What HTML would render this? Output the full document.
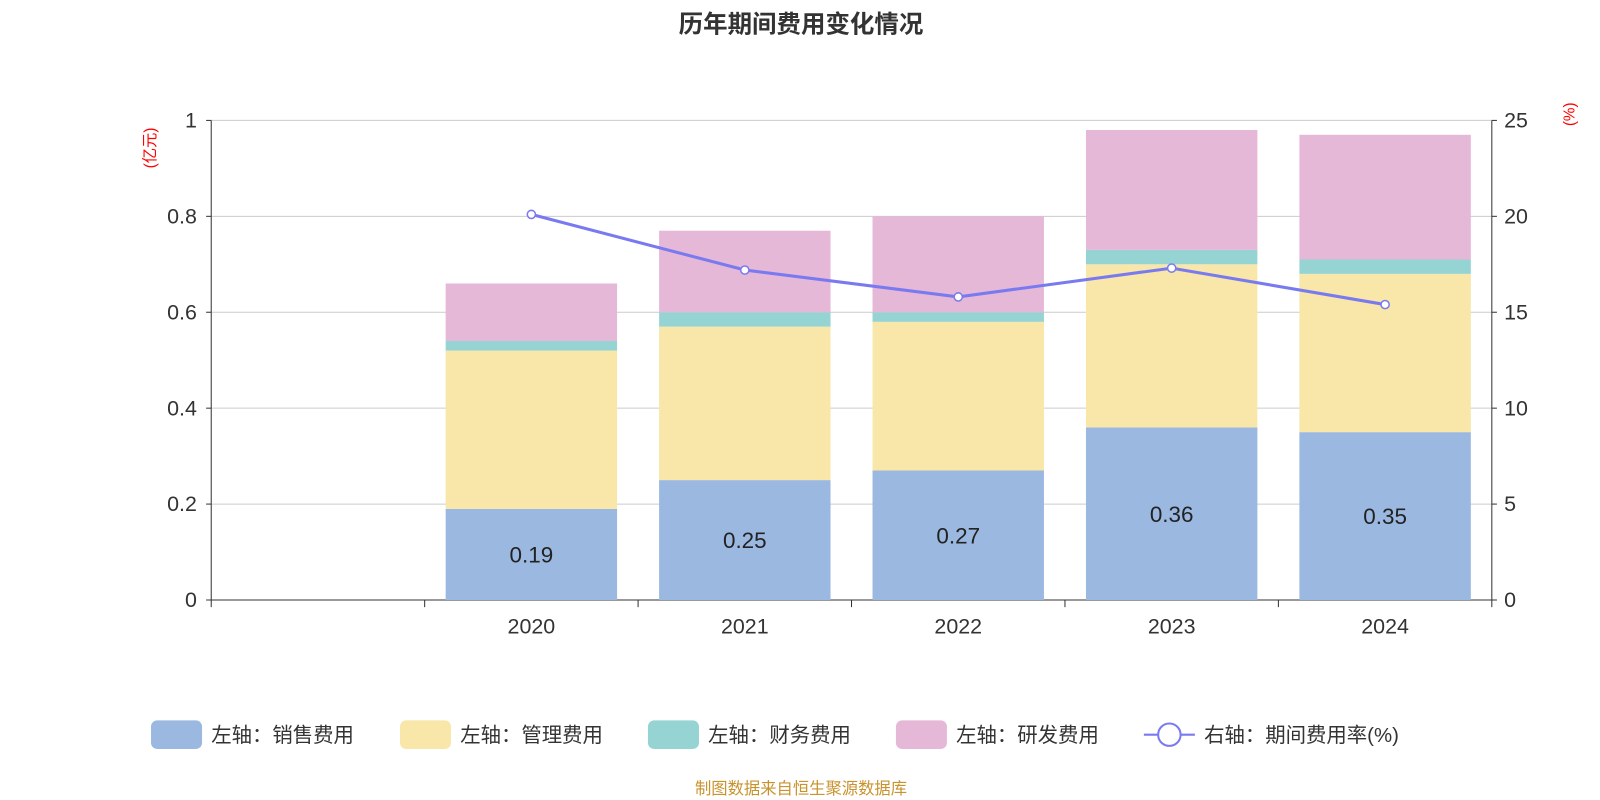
<!DOCTYPE html>
<html><head><meta charset="utf-8"><style>
body{margin:0;background:#fff;}
svg{display:block;font-family:"Liberation Sans","Noto Sans CJK SC",sans-serif;}
</style></head><body>
<svg width="1600" height="800">
<g transform="scale(1.0204)">
<text x="785" y="32" text-anchor="middle" font-size="24" font-weight="bold" fill="#333">历年期间费用变化情况</text>
<text transform="translate(152,145) rotate(-90)" text-anchor="middle" font-size="15" fill="red">(亿元)</text>
<text transform="translate(1543,112) rotate(-90)" text-anchor="middle" font-size="15" fill="red">(%)</text>
<g id="grid"></g><g id="bars"></g><g id="axes"></g><g id="line"></g>
<g id="legend" font-size="20" fill="#333"></g>
<text x="785" y="778" text-anchor="middle" font-size="16" fill="#c8932e">制图数据来自恒生聚源数据库</text>
</g>
</svg>
<script>
const categories=["","2020","2021","2022","2023","2024"];
const sales=[null,0.19,0.25,0.27,0.36,0.35];
const admin=[null,0.33,0.32,0.31,0.34,0.33];
const finance=[null,0.02,0.03,0.02,0.03,0.03];
const rnd=[null,0.12,0.17,0.20,0.25,0.26];
const rate=[null,20.1,17.2,15.8,17.3,15.4];
const leftTicks=[0,0.2,0.4,0.6,0.8,1];
const rightTicks=[0,5,10,15,20,25];
const NS="http://www.w3.org/2000/svg";
const L=207,R=1462,T=118,B=588;
const slot=(R-L)/categories.length;
const xc=i=>L+slot*(i+0.5);
const yL=v=>B-(v/1)*(B-T);
const yR=v=>B-(v/25)*(B-T);
function mk(p,tag,a){const e=document.createElementNS(NS,tag);for(const k in a)e.setAttribute(k,a[k]);document.getElementById(p).appendChild(e);return e;}
leftTicks.forEach((t,i)=>{
 const g=mk("grid","line",{x1:L,x2:R,y1:yL(t),y2:yL(t),stroke:i==0?"#333":"#ccc","stroke-width":1});
 
 
 const tx=mk("axes","text",{x:L-14,y:yL(t)+7,"text-anchor":"end","font-size":21,fill:"#333"});tx.textContent=t;
 
 
 mk("axes","line",{x1:L-5,x2:L,y1:yL(t),y2:yL(t),stroke:"#333"});
});
rightTicks.forEach(t=>{
 const tx=mk("axes","text",{x:R+12,y:yR(t)+7,"font-size":21,fill:"#333"});tx.textContent=t;
 
 
 mk("axes","line",{x1:R,x2:R+5,y1:yR(t),y2:yR(t),stroke:"#333"});
});
mk("axes","line",{x1:L,x2:L,y1:T,y2:B,stroke:"#333"});
mk("axes","line",{x1:R,x2:R,y1:T,y2:B,stroke:"#333"});
for(let i=0;i<=categories.length;i++)mk("axes","line",{x1:L+slot*i,x2:L+slot*i,y1:B,y2:B+7,stroke:"#333"});
categories.forEach((c,i)=>{const tx=mk("axes","text",{x:xc(i),y:B+33,"text-anchor":"middle","font-size":21,fill:"#333"});tx.textContent=c;
 
 });
const series=[[sales,"#9bb8e1","sales"],[admin,"#f8e7a8","admin"],[finance,"#96d4d4","finance"],[rnd,"#e6b8d8","rnd"]];
const bw=168;
categories.forEach((c,i)=>{
 if(sales[i]==null)return;let base=0;
 series.forEach(([arr,col,nm])=>{const v=arr[i];
  const r=mk("bars","rect",{x:xc(i)-bw/2,y:yL(base+v),width:bw,height:yL(base)-yL(base+v),fill:col});
  
  
  base+=v;});
 const lb=mk("bars","text",{x:xc(i),y:(yL(0)+yL(sales[i]))/2+8,"text-anchor":"middle","font-size":22,fill:"#222"});lb.textContent=sales[i];
 
 
});
const pts=[];rate.forEach((v,i)=>{if(v!=null)pts.push([xc(i),yR(v)]);});
const pl=mk("line","polyline",{points:pts.map(p=>p.join(",")).join(" "),fill:"none",stroke:"#7a7af0","stroke-width":3});


pts.forEach(p=>{const c=mk("line","circle",{cx:p[0],cy:p[1],r:4,fill:"#fff",stroke:"#7a7af0","stroke-width":1.5});
 
 });
const leg=[["左轴：销售费用","#9bb8e1",148],["左轴：管理费用","#f8e7a8",392],["左轴：财务费用","#96d4d4",635],["左轴：研发费用","#e6b8d8",878]];
leg.forEach(([t,c,x])=>{
 const r=mk("legend","rect",{x:x,y:706,width:50,height:28,rx:6,fill:c});
 
 
 const tx=mk("legend","text",{x:x+59,y:727});tx.textContent=t;
 
 
});
mk("legend","line",{x1:1121,x2:1171,y1:720,y2:720,stroke:"#7a7af0","stroke-width":2});
const lc=mk("legend","circle",{cx:1146,cy:720,r:11,fill:"#fff",stroke:"#7a7af0","stroke-width":2});


const lt=mk("legend","text",{x:1180,y:727});lt.textContent="右轴：期间费用率(%)";


</script>
</body></html>
